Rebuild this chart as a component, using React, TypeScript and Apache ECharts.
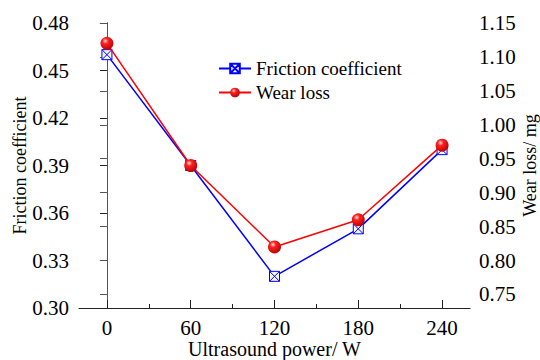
import React, { useEffect, useRef } from "react";
import * as echarts from "echarts";

const powers = [0, 60, 120, 180, 240];
const friction = [0.46, 0.39, 0.32, 0.35, 0.40];
const wearLoss = [1.12, 0.94, 0.82, 0.86, 0.97];
const xMajorTicks = [0, 60, 120, 180, 240];
const xMinorTicks = [30, 90, 150, 210];
const rightTicks = [0.75, 0.8, 0.85, 0.9, 0.95, 1.0, 1.05, 1.1, 1.15];

const FONT = "Liberation Serif";

export default function App() {
  const ref = useRef<HTMLDivElement>(null);
  useEffect(() => {
    if (!ref.current) return;
    const chart = echarts.init(ref.current, null, { renderer: "svg" });
    const axisColor = "#222";
    const sphere = new echarts.graphic.RadialGradient(0.38, 0.32, 0.75, [
      { offset: 0, color: "#ffe0e0" },
      { offset: 0.3, color: "#ff2020" },
      { offset: 1, color: "#b00000" },
    ]);
    chart.setOption({
      animation: false,
      backgroundColor: "#fff",
      textStyle: { fontFamily: FONT },
      grid: { left: 79, top: 23, width: 391, height: 285, containLabel: false, outerBoundsMode: "none" },
      legend: {
        left: 213,
        top: 54,
        orient: "vertical",
        itemWidth: 32,
        itemHeight: 12,
        itemGap: 5,
        textStyle: { fontFamily: FONT, fontSize: 19, color: "#000" },
        data: ["Friction coefficient", "Wear loss"],
      },
      xAxis: [
        {
          type: "value",
          min: -20,
          max: 260,
          name: "Ultrasound power/ W",
          nameLocation: "middle",
          nameMoveOverlap: false,
          nameGap: 31,
          nameTextStyle: { fontFamily: FONT, fontSize: 20, color: "#000" },
          axisLine: { show: true, lineStyle: { color: axisColor, width: 1 } },
          axisTick: { show: true, inside: true, length: 8, customValues: xMajorTicks, lineStyle: { color: axisColor } },
          axisLabel: { customValues: xMajorTicks, fontFamily: FONT, fontSize: 21, color: "#000", margin: 9 },
          splitLine: { show: false },
        },
        {
          type: "value",
          min: -20,
          max: 260,
          position: "bottom",
          axisLine: { show: false },
          axisTick: { show: true, inside: true, length: 4, customValues: xMinorTicks, lineStyle: { color: axisColor } },
          axisLabel: { show: false },
          splitLine: { show: false },
        },
      ],
      yAxis: [
        {
          type: "value",
          min: 0.3,
          max: 0.48,
          interval: 0.03,
          position: "left",
          name: "Friction coefficient",
          nameLocation: "middle",
          nameMoveOverlap: false,
          nameRotate: 90,
          nameGap: 50,
          nameTextStyle: { fontFamily: FONT, fontSize: 18, color: "#000" },
          axisLine: { show: true, lineStyle: { color: axisColor, width: 1 } },
          axisTick: { show: true, inside: false, length: 7, lineStyle: { color: axisColor } },
          axisLabel: { fontFamily: FONT, fontSize: 21, color: "#000", margin: 10, formatter: (v: number) => v.toFixed(2) },
          splitLine: { show: false },
        },
        {
          type: "value",
          min: 0.73,
          max: 1.15,
          position: "right",
          name: "Wear loss/ mg",
          nameLocation: "middle",
          nameMoveOverlap: false,
          nameRotate: 90,
          nameGap: 51,
          nameTextStyle: { fontFamily: FONT, fontSize: 18, color: "#000" },
          axisLine: { show: true, lineStyle: { color: "#555", width: 1 } },
          axisTick: { show: true, inside: true, length: 7, customValues: rightTicks, lineStyle: { color: "#555" } },
          axisLabel: { customValues: rightTicks, fontFamily: FONT, fontSize: 21, color: "#000", margin: 9, formatter: (v: number) => v.toFixed(2) },
          splitLine: { show: false },
        },
      ],
      series: [
        {
          name: "Friction coefficient",
          type: "line",
          xAxisIndex: 0,
          yAxisIndex: 0,
          data: powers.map((p, i) => [p, friction[i]]),
          symbol: "path://M0,0L10,0L10,10L0,10Z M0,0L10,10 M10,0L0,10",
          symbolSize: 10,
          lineStyle: { color: "#0000ff", width: 1.5 },
          itemStyle: { color: "#f4f6ff", borderColor: "#0000ff", borderWidth: 1 },
          z: 2,
        },
        {
          name: "Wear loss",
          type: "line",
          xAxisIndex: 0,
          yAxisIndex: 1,
          data: powers.map((p, i) => [p, wearLoss[i]]),
          symbol: "circle",
          symbolSize: 13,
          lineStyle: { color: "#ff0000", width: 1.5 },
          itemStyle: { color: sphere, borderWidth: 0 },
          z: 3,
        },
      ],
    });
    return () => chart.dispose();
  }, []);
  return <div ref={ref} style={{ width: 540, height: 360, position: "absolute", left: 0, top: 0 }} />;
}
